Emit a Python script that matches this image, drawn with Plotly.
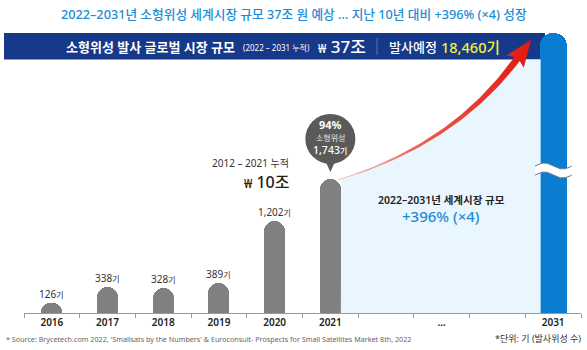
import numpy as np
import plotly.graph_objects as go

# ---------------- data ----------------
axis_slots = ["2016", "2017", "2018", "2019", "2020", "2021", "", "…", "", "2031"]
years = ["2016", "2017", "2018", "2019", "2020", "2021", "2031"]
launches = [126, 338, 328, 389, 1202, 1743, 18460]   # 기 (launched small satellites); 2031 = 2022-2031 forecast
value_labels = ["126", "338", "328", "389", "1,202", "", ""]
share_2021 = "94%"

FONT = "Noto Sans, Noto Sans CJK KR"
W, H = 587, 350
ML, MR, MT, MB = 24, 6, 33, 37
PW, PH = W - ML - MR, H - MT - MB
X_MIN, X_MAX = -0.5, len(axis_slots) - 0.5
Y_MAX = 3640          # axis break: bars above this are cut (wavy break mark)

GRAY = "#808080"
BLUE = "#0a7dd0"
LIGHT = "#eaf6fd"
NAVY = "#16398a"
TITLE_BLUE = "#1b8bd5"


def px2x(px):
    return X_MIN + (px - ML) / PW * (X_MAX - X_MIN)


def py2y(py):
    return (MT + PH - py) / PH * Y_MAX


def px2p(px):
    return (px - ML) / PW


def py2p(py):
    return (MT + PH - py) / PH


xpos = [axis_slots.index(y) for y in years]
shown = [min(v, Y_MAX) for v in launches]
widths = [0.485 if v > Y_MAX else 0.377 for v in launches]
colors = [BLUE if v > Y_MAX else GRAY for v in launches]

fig = go.Figure()

# ---------------- growth arrow geometry (pixel space -> data) ----------------
slot = PW / (X_MAX - X_MIN)
bar21_right = ML + (xpos[5] - X_MIN) * slot + widths[5] * slot / 2
bar31_left = ML + (xpos[6] - X_MIN) * slot - widths[6] * slot / 2
base_py = MT + PH
top21_py = MT + PH - launches[5] / Y_MAX * PH

P0 = np.array([bar21_right - 3, top21_py + 1])
C = np.array([454.0, 145.0])
P2 = np.array([517.0, 59.0])


def bez(t):
    t = np.asarray(t)[:, None]
    return (1 - t) ** 2 * P0 + 2 * (1 - t) * t * C + t ** 2 * P2


def bezd(t):
    t = np.asarray(t)[:, None]
    return 2 * (1 - t) * (C - P0) + 2 * t * (P2 - C)


# light-blue forecast region under the curve
BANNER_BOTTOM = 59.5
tt = np.linspace(0, 1, 200)
pts = bez(tt)
pts = pts[pts[:, 0] >= bar21_right]
fx = [bar21_right] + list(pts[:, 0]) + [bar31_left + 1, bar31_left + 1]
fy = [base_py] + [max(v, BANNER_BOTTOM) for v in pts[:, 1]] + [BANNER_BOTTOM, base_py]
fig.add_trace(go.Scatter(
    x=[px2x(v) for v in fx], y=[py2y(v) for v in fy], fill="toself",
    fillcolor=LIGHT, line=dict(width=0), mode="lines",
    hoverinfo="skip", showlegend=False))

# bars
fig.add_trace(go.Bar(
    x=xpos, y=shown, width=widths, marker=dict(color=colors, cornerradius="50%", line=dict(width=0)),
    customdata=launches, hovertemplate="%{customdata:,}기<extra></extra>", showlegend=False))

# arrow polygon
ts = np.linspace(0, 1, 60)
cen = bez(ts)
der = bezd(ts)
tan = der / np.linalg.norm(der, axis=1)[:, None]
nor = np.stack([-tan[:, 1], tan[:, 0]], axis=1)
hw = 0.5 + 2.9 * ts ** 1.3
upper = cen + nor * hw[:, None]
lower = cen - nor * hw[:, None]
te, ne = tan[-1], nor[-1]
barb1 = P2 - 3 * te + ne * 10.5
barb2 = P2 - 3 * te - ne * 10.5
tip = P2 + 24 * te
poly = np.vstack([upper, barb1, tip, barb2, lower[::-1]])
fig.add_trace(go.Scatter(
    x=[px2x(v) for v in poly[:, 0]], y=[py2y(v) for v in poly[:, 1]],
    fill="toself", mode="lines", line=dict(width=0),
    fillgradient=dict(type="horizontal",
                      colorscale=[[0, "#f6c2c0"], [0.45, "#ec5a50"], [1, "#e3170d"]]),
    hoverinfo="skip", showlegend=False))

# wavy axis-break mark on the 2031 bar
wx = np.linspace(535, 572, 60)
wave = 3.0 * np.sin(2 * np.pi * (wx - 535) / 37.0)
up_y = 166 - wave
lo_y = 175 - wave
fig.add_trace(go.Scatter(
    x=[px2x(v) for v in np.concatenate([wx, wx[::-1]])],
    y=[py2y(v) for v in np.concatenate([up_y, lo_y[::-1]])],
    fill="toself", fillcolor="white", line=dict(width=0), mode="lines",
    hoverinfo="skip", showlegend=False))
for yy in (up_y, lo_y):
    fig.add_trace(go.Scatter(
        x=[px2x(v) for v in wx], y=[py2y(v) for v in yy], mode="lines",
        line=dict(color="#6d7b88", width=1), hoverinfo="skip", showlegend=False))

# ---------------- annotations ----------------
anns = []


def ann(text, px, py, size, color="#222", xanchor="center", weight=400, yanchor="middle"):
    anns.append(dict(text=text, x=px2p(px), y=py2p(py), xref="paper", yref="paper",
                     xanchor=xanchor, yanchor=yanchor, showarrow=False,
                     font=dict(family=FONT, size=size, color=color, weight=weight)))


# value labels above the bars
for xp, v, lab in zip(xpos, launches, value_labels):
    if lab:
        anns.append(dict(text=f"{lab}<span style='font-size:8px'>기</span>", x=xp, y=v,
                         xref="x", yref="y", yshift=9, yanchor="middle", showarrow=False,
                         font=dict(family=FONT, size=10, color="#333")))

# bubble text for 2021
for txt, sh, sz, col, wt in [(share_2021, 54, 11, "white", 700),
                             ("소형위성", 41.5, 8, "#e6e6e6", 400),
                             (f"{launches[5]:,}<span style='font-size:8px'>기</span>", 28.5, 10.5, "white", 500)]:
    anns.append(dict(text=txt, x=xpos[5], y=launches[5], xref="x", yref="y", yshift=sh,
                     yanchor="middle", showarrow=False,
                     font=dict(family=FONT, size=sz, color=col, weight=wt)))

ann("2022–2031년 소형위성 세계시장 규모 37조 원 예상 … 지난 10년 대비 +396% (×4) 성장",
    293.5, 14, 12.7, TITLE_BLUE, weight=500)

# banner texts
ann("소형위성 발사 글로벌 시장 규모", 237, 46.5, 13, "white", xanchor="right", weight=700)
ann("(2022 – 2031 누적)", 241, 47, 8, "white", xanchor="left")
ann("<span style='font-size:12px'>₩</span> 37조", 316, 46.5, 17, "white", xanchor="left", weight=500)
ann("발사예정", 387, 46.5, 13, "white", xanchor="left", weight=500)
ann(f"{launches[6]:,}기", 439, 46.5, 14.5, "#f2f23c", xanchor="left", weight=500)

ann("2012 – 2021 누적", 291, 163, 10, "#333", xanchor="right")
ann("<span style='font-size:12px'>₩</span> 10조", 291, 182, 16, "#222", xanchor="right", weight=500)

ann("2022–2031년 세계시장 규모", 441, 200, 10.5, "#222", weight=600)
ann("+396% (×4)", 441, 216, 15, TITLE_BLUE, weight=500)

ann("* Source: Brycetech.com 2022, 'Smallsats by the Numbers' &amp; Euroconsult- Prospects for Small Satellites Market 8th, 2022",
    4, 339, 7.2, "#666", xanchor="left")
ann("*단위: 기 (발사위성 수)", 583, 338.5, 9, "#333", xanchor="right")

# ---------------- shapes ----------------
shapes = [
    dict(type="rect", xref="paper", yref="paper", x0=px2p(4), x1=px2p(545),
         y0=py2p(59.5), y1=py2p(33), fillcolor=NAVY, line=dict(width=0), layer="below"),
    dict(type="line", xref="paper", yref="paper", x0=px2p(377), x1=px2p(377),
         y0=py2p(38), y1=py2p(55), line=dict(color="#5a72ad", width=1)),
    # bubble above the 2021 bar
    dict(type="circle", xref="x", yref="y", xsizemode="pixel", ysizemode="pixel",
         xanchor=xpos[5], yanchor=launches[5], x0=-25, x1=25, y0=15, y1=65,
         fillcolor="#5a5a5a", line=dict(width=0)),
    dict(type="path", xref="x", yref="y", xsizemode="pixel", ysizemode="pixel",
         xanchor=xpos[5], yanchor=launches[5], path="M -5 18 L 5 18 L 0 7 Z",
         fillcolor="#5a5a5a", line=dict(width=0)),
]

fig.update_layout(
    width=W, height=H, margin=dict(l=ML, r=MR, t=MT, b=MB, pad=0),
    paper_bgcolor="white", plot_bgcolor="rgba(0,0,0,0)",
    annotations=anns, shapes=shapes, bargap=0,
    xaxis=dict(range=[X_MIN, X_MAX], tickmode="array",
               tickvals=list(range(len(axis_slots))), ticktext=axis_slots,
               ticks="", showgrid=False, zeroline=False, showline=True,
               linecolor="#9a9a9a", linewidth=1, fixedrange=True,
               tickfont=dict(family=FONT, size=10, color="#222", weight=600),
               minor=dict(tickmode="array",
                          tickvals=[i - 0.5 for i in range(len(axis_slots) + 1)],
                          ticks="outside", ticklen=4, tickcolor="#9a9a9a", tickwidth=1)),
    yaxis=dict(range=[0, Y_MAX], visible=False, fixedrange=True),
    font=dict(family=FONT),
)

fig.write_html("out.html")
